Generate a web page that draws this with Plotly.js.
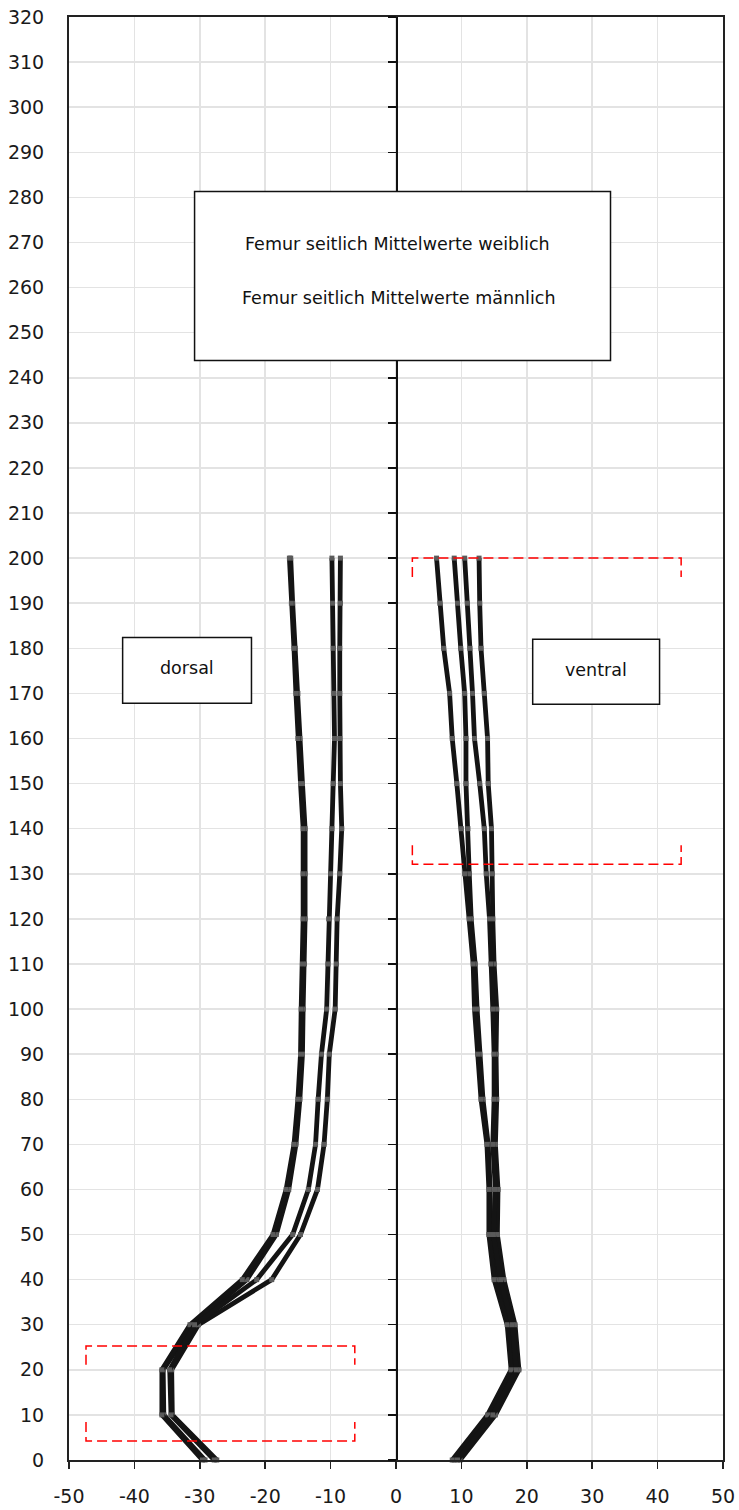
<!DOCTYPE html>
<html>
<head>
<meta charset="utf-8">
<script src="https://cdn.plot.ly/plotly-3.0.1.min.js"></script>
<style>html,body{margin:0;padding:0;background:#fff;}#chart{width:739px;height:1510px;}</style>
</head>
<body>
<div id="chart"></div>
<script>
// Heights along the femur (y values)
const heights = [0,10,20,30,40,50,60,70,80,90,100,110,120,130,140,150,160,170,180,190,200];

// Dorsal profiles (negative x)
const dorsalWeiblichAussen  = [-29.6,-35.8,-35.8,-31.5,-23.5,-18.8,-16.8,-15.6,-15.0,-14.6,-14.5,-14.3,-14.2,-14.2,-14.2,-14.6,-15.0,-15.3,-15.6,-16.0,-16.3];
const dorsalMaennlichAussen = [-29.2,-35.5,-35.6,-31.0,-22.8,-18.3,-16.4,-15.3,-14.7,-14.3,-14.2,-14.0,-13.9,-13.9,-13.9,-14.3,-14.7,-15.0,-15.4,-15.8,-16.1];
const dorsalWeiblichInnen   = [-27.8,-34.4,-34.6,-30.8,-21.3,-15.8,-13.4,-12.3,-11.9,-11.4,-10.6,-10.4,-10.3,-10.0,-9.8,-9.6,-9.4,-9.5,-9.6,-9.7,-9.8];
const dorsalMaennlichInnen  = [-27.4,-34.2,-34.3,-30.2,-19.0,-14.6,-12.0,-11.0,-10.5,-10.2,-9.3,-9.1,-9.0,-8.6,-8.3,-8.5,-8.6,-8.6,-8.6,-8.5,-8.5];

// Ventral profiles (positive x)
const ventralWeiblichInnen   = [8.6,14.0,17.6,17.0,15.0,14.2,14.2,13.9,13.0,12.5,12.0,11.8,11.2,10.5,10.0,9.3,8.6,8.2,7.3,6.7,6.2];
const ventralMaennlichInnen  = [8.9,14.4,18.0,17.4,15.4,14.5,14.4,14.1,13.3,12.8,12.4,12.1,11.5,11.2,11.0,10.7,10.7,10.5,9.9,9.4,8.9];
const ventralWeiblichAussen  = [9.4,14.8,18.4,17.8,16.0,14.9,15.2,14.8,15.0,15.0,14.8,14.5,14.3,13.8,13.5,12.8,12.0,11.7,11.3,10.9,10.5];
const ventralMaennlichAussen = [9.8,15.2,18.8,18.2,16.5,15.5,15.6,15.2,15.4,15.3,15.4,15.0,14.8,14.7,14.6,14.1,14.0,13.5,13.0,12.8,12.7];

// Tick values and labels
const xTickValues = [-50,-40,-30,-20,-10,0,10,20,30,40,50];
const xTickLabels = ["-50","-40","-30","-20","-10","0","10","20","30","40","50"];

// Text labels
const legendLabels = ["Femur seitlich Mittelwerte weiblich", "Femur seitlich Mittelwerte männlich"];
const sideLabels = ["dorsal", "ventral"];

const lineStyle = {color: '#141414', width: 4.8};
const markerStyle = {symbol: 'square', size: 5, color: '#5a5a5a', line: {width: 0}};

function tr(xs, name) {
  return {x: xs, y: heights, name: name, type: 'scatter', mode: 'lines+markers',
          line: lineStyle, marker: markerStyle, showlegend: false, hoverinfo: 'skip', cliponaxis: false};
}

const data = [
  tr(dorsalMaennlichAussen, legendLabels[1]),
  tr(dorsalWeiblichAussen, legendLabels[0]),
  tr(dorsalMaennlichInnen, legendLabels[1]),
  tr(dorsalWeiblichInnen, legendLabels[0]),
  tr(ventralMaennlichInnen, legendLabels[1]),
  tr(ventralWeiblichInnen, legendLabels[0]),
  tr(ventralMaennlichAussen, legendLabels[1]),
  tr(ventralWeiblichAussen, legendLabels[0]),
  {x: [null], y: [null], yaxis: 'y2', type: 'scatter', mode: 'lines', showlegend: false, hoverinfo: 'skip'}
];

const tickFont = {family: 'DejaVu Sans, sans-serif', size: 19, color: '#1a1a1a'};
const txtFont = {family: 'DejaVu Sans, sans-serif', size: 17.5, color: '#111'};
const red = {color: '#ff0000', width: 1.5, dash: '10px,5px'};

const layout = {
  width: 739, height: 1510,
  margin: {l: 69, r: 16, t: 17, b: 50, pad: 0},
  paper_bgcolor: '#fff', plot_bgcolor: '#fff',
  showlegend: false,
  hovermode: false,
  xaxis: {
    range: [-50, 50], tickmode: 'array', tickvals: xTickValues, ticktext: xTickLabels,
    showgrid: true, gridcolor: '#e3e3e3', gridwidth: 1.5,
    zeroline: false,
    showline: true, linecolor: '#222', linewidth: 2, mirror: true,
    ticks: 'outside', ticklen: 7, tickwidth: 1.5, tickcolor: '#222',
    tickfont: tickFont, ticklabelstandoff: 11
  },
  yaxis: {
    range: [0, 320], dtick: 10, tick0: 0,
    showgrid: true, gridcolor: '#e3e3e3', gridwidth: 1.5,
    zeroline: false,
    showline: true, linecolor: '#222', linewidth: 2, mirror: true,
    ticks: '', tickfont: tickFont, ticklabelstandoff: 19
  },
  yaxis2: {
    range: [0, 320], dtick: 10, tick0: 0,
    overlaying: 'y', anchor: 'free', position: 0.5, side: 'left',
    showgrid: false, zeroline: false,
    showline: true, linecolor: '#111', linewidth: 1.5,
    ticks: 'outside', ticklen: 8, tickwidth: 1.5, tickcolor: '#111',
    showticklabels: false
  },
  shapes: [
    // legend box
    {type: 'rect', xref: 'x', yref: 'y', x0: -30.8, x1: 32.8, y0: 243.8, y1: 281.3,
     fillcolor: '#fff', line: {color: '#111', width: 1.5}, layer: 'above'},
    // dorsal box
    {type: 'rect', xref: 'x', yref: 'y', x0: -41.8, x1: -22.1, y0: 167.8, y1: 182.4,
     fillcolor: '#fff', line: {color: '#111', width: 1.5}, layer: 'above'},
    // ventral box
    {type: 'rect', xref: 'x', yref: 'y', x0: 20.9, x1: 40.3, y0: 167.6, y1: 182.0,
     fillcolor: '#fff', line: {color: '#111', width: 1.5}, layer: 'above'},
    // red dashed brackets, ventral region
    {type: 'path', xref: 'x', yref: 'y', path: 'M 2.5,195.8 L 2.5,200 L 43.6,200 L 43.6,195.8', line: red, layer: 'above'},
    {type: 'path', xref: 'x', yref: 'y', path: 'M 2.5,136.3 L 2.5,132.1 L 43.6,132.1 L 43.6,136.3', line: red, layer: 'above'},
    // red dashed brackets, dorsal region
    {type: 'path', xref: 'x', yref: 'y', path: 'M -47.4,21.1 L -47.4,25.3 L -6.3,25.3 L -6.3,21.1', line: red, layer: 'above'},
    {type: 'path', xref: 'x', yref: 'y', path: 'M -47.4,8.4 L -47.4,4.2 L -6.3,4.2 L -6.3,8.4', line: red, layer: 'above'}
  ],
  annotations: [
    {xref: 'x', yref: 'y', x: 0.2, y: 269.6, text: legendLabels[0], showarrow: false, font: txtFont, xanchor: 'center', yanchor: 'middle'},
    {xref: 'x', yref: 'y', x: 0.5, y: 257.6, text: legendLabels[1], showarrow: false, font: txtFont, xanchor: 'center', yanchor: 'middle'},
    {xref: 'x', yref: 'y', x: -32.0, y: 175.6, text: sideLabels[0], showarrow: false, font: txtFont, xanchor: 'center', yanchor: 'middle'},
    {xref: 'x', yref: 'y', x: 30.6, y: 175.3, text: sideLabels[1], showarrow: false, font: txtFont, xanchor: 'center', yanchor: 'middle'}
  ]
};

Plotly.newPlot('chart', data, layout, {staticPlot: true, displayModeBar: false});
</script>
</body>
</html>
